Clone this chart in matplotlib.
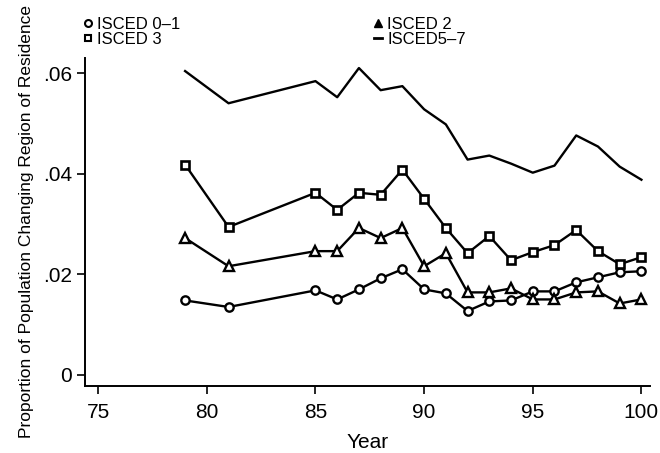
import matplotlib.pyplot as plt
from matplotlib.lines import Line2D

# 年（西暦下2桁）
years = [79, 81, 85, 86, 87, 88, 89, 90, 91, 92, 93, 94, 95, 96, 97, 98, 99, 100]

# 学歴別の地域間移動率
isced_0_1 = [0.0148, 0.0135, 0.0168, 0.0150, 0.0170, 0.0192, 0.0210, 0.0170, 0.0162,
             0.0127, 0.0146, 0.0148, 0.0166, 0.0166, 0.0184, 0.0194, 0.0204, 0.0206]
isced_2 = [0.0272, 0.0216, 0.0246, 0.0246, 0.0292, 0.0272, 0.0292, 0.0216, 0.0242,
           0.0164, 0.0164, 0.0172, 0.0150, 0.0150, 0.0164, 0.0166, 0.0142, 0.0150]
isced_3 = [0.0418, 0.0294, 0.0362, 0.0328, 0.0362, 0.0358, 0.0408, 0.0350, 0.0292,
           0.0242, 0.0276, 0.0228, 0.0244, 0.0258, 0.0288, 0.0246, 0.0220, 0.0234]
isced_5_7 = [0.0604, 0.0540, 0.0584, 0.0552, 0.0610, 0.0566, 0.0574, 0.0528, 0.0498,
             0.0428, 0.0436, 0.0420, 0.0402, 0.0416, 0.0476, 0.0454, 0.0414, 0.0388]

x_ticks = [75, 80, 85, 90, 95, 100]
y_ticks = [0, 0.02, 0.04, 0.06]
y_tick_labels = ["0", ".02", ".04", ".06"]

plt.rcParams["font.family"] = ["Liberation Sans", "DejaVu Sans"]

fig = plt.figure(figsize=(6.6, 4.53), dpi=100)
ax = fig.add_axes([0.129, 0.148, 0.856, 0.724])

lw = 1.7
ax.plot(years, isced_0_1, color="black", lw=lw, marker="o", ms=6,
        mfc="white", mec="black", mew=1.7)
ax.plot(years, isced_2, color="black", lw=lw, marker="^", ms=6.5,
        mfc="white", mec="black", mew=1.7)
ax.plot(years, isced_3, color="black", lw=lw, marker="s", ms=5.5,
        mfc="white", mec="black", mew=1.9)
ax.plot(years, isced_5_7, color="black", lw=lw)

ax.set_xlim(74.4, 100.4)
ax.set_ylim(-0.0022, 0.063)
ax.set_xticks(x_ticks)
ax.set_yticks(y_ticks)
ax.set_yticklabels(y_tick_labels)
ax.tick_params(axis="both", labelsize=15, length=6, width=1.2, direction="out")
ax.tick_params(axis="x", pad=6)

for side in ["top", "right"]:
    ax.spines[side].set_visible(False)
for side in ["left", "bottom"]:
    ax.spines[side].set_linewidth(1.4)

ax.set_xlabel("Year", fontsize=15, labelpad=8)
ax.set_ylabel("Proportion of Population Changing Region of Residence",
              fontsize=12.5, labelpad=6)

# 凡例（2列）
handles = [
    Line2D([], [], ls="none", marker="o", ms=5, mfc="white", mec="black", mew=1.5),
    Line2D([], [], ls="none", marker="s", ms=5, mfc="white", mec="black", mew=1.5),
    Line2D([], [], ls="none", marker="^", ms=6, mfc="black", mec="black"),
    Line2D([], [], color="black", lw=2.0),
]
labels = ["ISCED 0\u20131", "ISCED 3", "ISCED 2", "ISCED5\u20137"]
fig.legend(handles, labels, ncol=2, loc="upper left", bbox_to_anchor=(0.108, 0.99),
           frameon=False, fontsize=12, handlelength=0.5, handletextpad=0.3,
           labelspacing=0.0, columnspacing=11.6, borderpad=0.25)

fig.savefig("out.png", dpi=100)
